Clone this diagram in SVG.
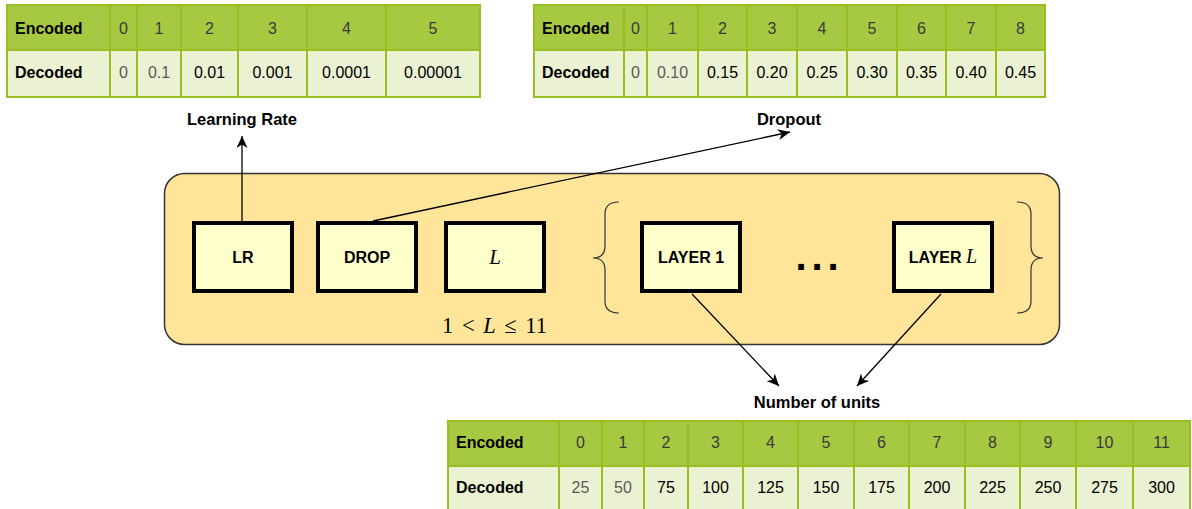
<svg xmlns="http://www.w3.org/2000/svg" width="1192" height="509" viewBox="0 0 1192 509">
<defs>
<marker id="arr" markerWidth="13" markerHeight="11" refX="12" refY="5.5" orient="auto" markerUnits="userSpaceOnUse"><path d="M0,0 L12,5.5 L0,11 L3.5,5.5 Z" fill="#000"/></marker>
</defs>
<style>
.t{font-family:"Liberation Sans",Arial,Helvetica,sans-serif;font-size:16px;fill:#000}
.b{font-weight:bold}
.lb{font-size:16.5px}
.hd{fill:#A7C942}
.bd{fill:#EAF2D3}
.gl{stroke:#98BF21;stroke-width:2;fill:none}
.n{text-anchor:middle}
.g1{fill:#3a3a3a}
.g2{fill:#5a5a5a}
.node{fill:#FFFFCC;stroke:#000;stroke-width:4}
.conn{stroke:#000;stroke-width:1.3;fill:none}
.m{font-family:"Liberation Serif","Times New Roman",serif;font-style:italic;font-size:21px}
.brace{stroke:#333;stroke-width:1.2;fill:none}
.dot{font-size:40px;text-anchor:middle}
</style>
<rect width="1192" height="509" fill="#fff"/>

<!-- Learning-rate table -->
<g id="table-lr">
<rect class="hd" x="7" y="5" width="473" height="45"/>
<rect class="bd" x="7" y="50" width="473" height="47"/>
<path class="gl" d="M7,5 H480 V97 H7 Z M7,50 H480 M110,5 V97 M137,5 V97 M181,5 V97 M238,5 V97 M307,5 V97 M386,5 V97"/>
<text class="t b" x="15" y="33.5">Encoded</text>
<text class="t b" x="15" y="77.5">Decoded</text>
<g class="t n g1">
<text x="123.5" y="33.5">0</text><text x="159" y="33.5">1</text><text x="209.5" y="33.5">2</text><text x="272.5" y="33.5">3</text><text x="346.5" y="33.5">4</text><text x="433" y="33.5">5</text>
</g>
<g class="t n">
<text class="g2" x="123.5" y="77.5">0</text><text class="g2" x="159" y="77.5">0.1</text><text x="209.5" y="77.5">0.01</text><text x="272.5" y="77.5">0.001</text><text x="346.5" y="77.5">0.0001</text><text x="433" y="77.5">0.00001</text>
</g>
</g>

<!-- Dropout table -->
<g id="table-drop">
<rect class="hd" x="534" y="5" width="511" height="45"/>
<rect class="bd" x="534" y="50" width="511" height="47"/>
<path class="gl" d="M534,5 H1045 V97 H534 Z M534,50 H1045 M624,5 V97 M647,5 V97 M698,5 V97 M747,5 V97 M797,5 V97 M847,5 V97 M897,5 V97 M946,5 V97 M996,5 V97"/>
<text class="t b" x="542" y="33.5">Encoded</text>
<text class="t b" x="542" y="77.5">Decoded</text>
<g class="t n g1">
<text x="635.5" y="33.5">0</text><text x="672.5" y="33.5">1</text><text x="722.5" y="33.5">2</text><text x="772" y="33.5">3</text><text x="822" y="33.5">4</text><text x="872" y="33.5">5</text><text x="921.5" y="33.5">6</text><text x="971" y="33.5">7</text><text x="1020.5" y="33.5">8</text>
</g>
<g class="t n">
<text class="g2" x="635.5" y="77.5">0</text><text class="g2" x="672.5" y="77.5">0.10</text><text x="722.5" y="77.5">0.15</text><text x="772" y="77.5">0.20</text><text x="822" y="77.5">0.25</text><text x="872" y="77.5">0.30</text><text x="921.5" y="77.5">0.35</text><text x="971" y="77.5">0.40</text><text x="1020.5" y="77.5">0.45</text>
</g>
</g>

<!-- Units table -->
<g id="table-units">
<rect class="hd" x="448" y="421" width="742" height="45"/>
<rect class="bd" x="448" y="466" width="742" height="44"/>
<path class="gl" d="M448,510 V421 H1190 V510 M448,466 H1190 M559,421 V510 M602,421 V510 M644,421 V510 M688,421 V510 M743,421 V510 M798,421 V510 M854,421 V510 M909,421 V510 M965,421 V510 M1020,421 V510 M1076,421 V510 M1133,421 V510"/>
<text class="t b" x="456" y="448">Encoded</text>
<text class="t b" x="456" y="492.5">Decoded</text>
<g class="t n g1">
<text x="580.5" y="448">0</text><text x="623" y="448">1</text><text x="666" y="448">2</text><text x="715.5" y="448">3</text><text x="770.5" y="448">4</text><text x="826" y="448">5</text><text x="881.5" y="448">6</text><text x="937" y="448">7</text><text x="992.5" y="448">8</text><text x="1048" y="448">9</text><text x="1104.5" y="448">10</text><text x="1161.5" y="448">11</text>
</g>
<g class="t n">
<text class="g2" x="580.5" y="492.5">25</text><text class="g2" x="623" y="492.5">50</text><text x="666" y="492.5">75</text><text x="715.5" y="492.5">100</text><text x="770.5" y="492.5">125</text><text x="826" y="492.5">150</text><text x="881.5" y="492.5">175</text><text x="937" y="492.5">200</text><text x="992.5" y="492.5">225</text><text x="1048" y="492.5">250</text><text x="1104.5" y="492.5">275</text><text x="1161.5" y="492.5">300</text>
</g>
</g>

<!-- Container -->
<g id="container">
<rect x="164.5" y="173.5" width="895" height="171" rx="20" ry="20" fill="#FFE599" stroke="#333" stroke-width="1.5"/>
<path class="brace" d="M619,202 Q605,202 605,214 L605,246 Q605,258 593,258 Q605,258 605,270 L605,301 Q605,313 619,313"/>
<path class="brace" d="M1017,202 Q1031,202 1031,214 L1031,246 Q1031,258 1043,258 Q1031,258 1031,270 L1031,301 Q1031,313 1017,313"/>
<text class="t b dot" x="801" y="270">.</text>
<text class="t b dot" x="817" y="270">.</text>
<text class="t b dot" x="833" y="270">.</text>
<text x="494.5" y="333" text-anchor="middle" font-family="'Liberation Serif','Times New Roman',serif" font-size="22.5" word-spacing="3">1 &lt; <tspan font-style="italic">L</tspan> ≤ 11</text>
</g>

<g id="node-lr"><rect class="node" x="194" y="223" width="98" height="68"/><text class="t b n" x="243" y="263">LR</text></g>
<g id="node-drop"><rect class="node" x="318" y="223" width="98" height="68"/><text class="t b n" x="367" y="263">DROP</text></g>
<g id="node-l"><rect class="node" x="446" y="223" width="98" height="68"/><text class="m n" x="495" y="264">L</text></g>
<g id="node-layer1"><rect class="node" x="642" y="223" width="98" height="68"/><text class="t b n" x="691" y="263">LAYER 1</text></g>
<g id="node-layerl"><rect class="node" x="894" y="223" width="98" height="68"/><text class="t b n" x="943" y="263">LAYER <tspan font-family="'Liberation Serif','Times New Roman',serif" font-style="italic" font-weight="normal" font-size="20">L</tspan></text></g>

<g id="label-lr"><text class="t b n lb" x="242" y="125">Learning Rate</text></g>
<g id="label-drop"><text class="t b n lb" x="789" y="125">Dropout</text></g>
<g id="label-units"><text class="t b n lb" x="817" y="408">Number of units</text></g>

<g id="connectors">
<line class="conn" x1="242" y1="221" x2="242" y2="136" marker-end="url(#arr)"/>
<line class="conn" x1="373" y1="221" x2="790" y2="132" marker-end="url(#arr)"/>
<line class="conn" x1="692" y1="294" x2="779" y2="386" marker-end="url(#arr)"/>
<line class="conn" x1="941" y1="294" x2="857" y2="386" marker-end="url(#arr)"/>
</g>
</svg>
